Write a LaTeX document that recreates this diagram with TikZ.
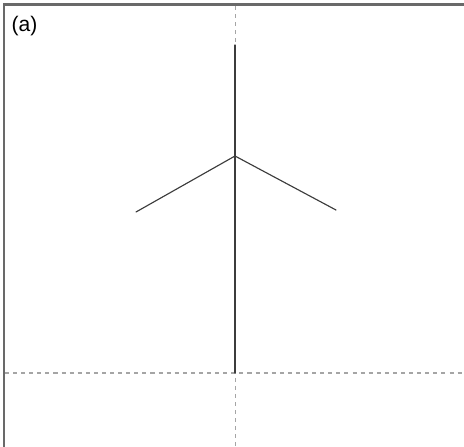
\documentclass[tikz,border=0pt]{standalone}
\usepackage{fontspec}
\setmainfont{Liberation Sans}
\usetikzlibrary{positioning}
\definecolor{frameColor}{RGB}{105,105,105}
\definecolor{guideColor}{RGB}{165,165,165}
\definecolor{stickColor}{RGB}{60,60,60}

\begin{document}
\begin{tikzpicture}[
    x=0.02cm, y=-0.02cm,
    frame-style/.style={draw=frameColor, line width=1.2pt},
    guide-style/.style={draw=guideColor, dash pattern=on 2.3pt off 2.3pt, line width=0.6pt},
    stick-style/.style={draw=stickColor, line width=0.65pt, line cap=round},
    label-style/.style={font=\fontsize{12}{14}\selectfont, inner sep=0pt}
]
    \useasboundingbox (0,0) rectangle (464,447);

    % Frame: only top and left edges.
    \coordinate (frameTR) at (464,4.5);
    \coordinate (frameTL) at (4,4.5);
    \coordinate (frameBL) at (4,447);
    \draw[frame-style] (frameTR) -- (frameTL) -- (frameBL);

    % Panel label.
    \node[label-style] (panelLabel) at (24.5,26.5) {(a)};

    % Guide lines.
    \coordinate (guideTop) at (235.5,6);
    \coordinate (guideBottom) at (235.5,447);
    \coordinate (guideLeft) at (5,373);
    \coordinate (guideRight) at (464,373);
    \draw[guide-style] (guideTop) -- (guideBottom);
    \draw[guide-style] (guideLeft) -- (guideRight);

    % Stick figure.
    \coordinate (stickTop) at (235,45);
    \coordinate (hub) at (235,156);
    \coordinate (stickBase) at (235,373);
    \coordinate (tipLeft) at (136,212);
    \coordinate (tipRight) at (336,210);
    \draw[stick-style] (stickTop) -- (stickBase);
    \draw[stick-style] (tipLeft) -- (hub) -- (tipRight);
\end{tikzpicture}
\end{document}
